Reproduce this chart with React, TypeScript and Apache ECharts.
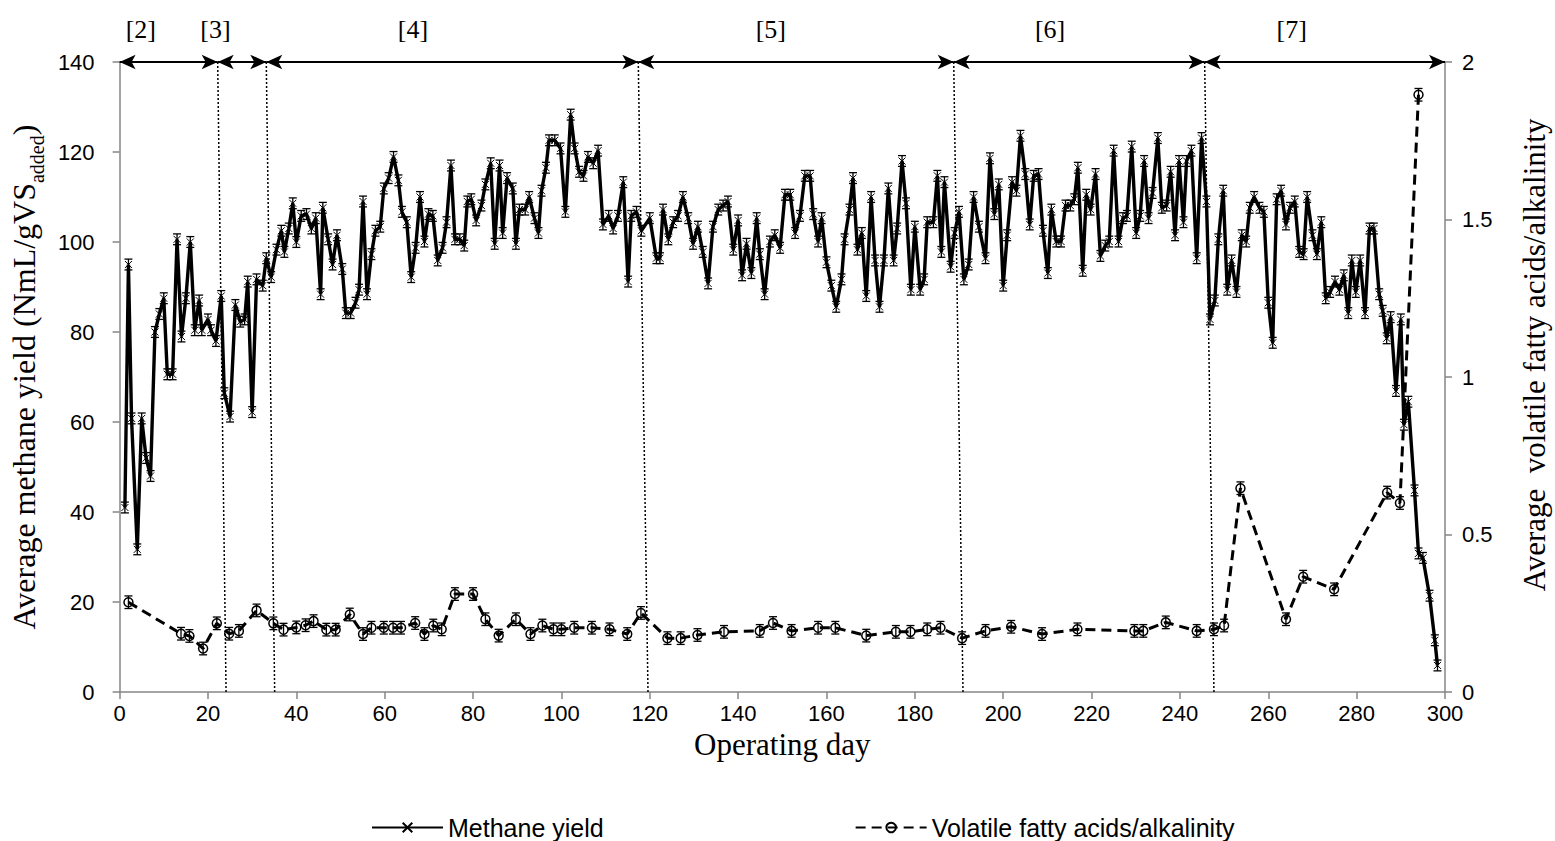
import React, { useEffect, useRef } from "react";
import * as echarts from "echarts";

// ---------- data ----------
const SERIES_NAMES = ["Methane yield", "Volatile fatty acids/alkalinity"];

// [operating day, average methane yield (NmL/gVS added)]
const METHANE: [number, number][] = [
  [1.2, 41], [2, 95], [2.7, 60.8], [4, 31.7], [5, 60.8], [6, 52], [7, 48], [8, 80], [9, 84], [10, 87.5],
  [10.8, 70.6], [12, 70.6], [13, 100.6], [14, 79], [15, 87.5], [16, 100], [17, 80.4], [18, 87], [18.6, 80.4], [20, 82.8],
  [20.7, 80.4], [21.8, 78], [23, 88], [23.7, 66.4], [25, 61.2], [26.2, 86], [27.3, 82.3], [28.3, 82.8], [29, 91.2], [30, 62.2],
  [31, 91.7], [32.4, 90.3], [33.2, 96.4], [34.3, 92.2], [35.5, 98.3], [36.6, 102.5], [37.3, 97.8], [38.3, 103], [39.2, 108.6], [40, 100],
  [41.1, 105.8], [42.3, 106.2], [43.4, 103], [44.4, 105.3], [45.5, 88.4], [46, 107.6], [47.2, 100.6], [48.2, 95], [49.2, 101.5], [50.4, 94],
  [51.2, 84.2], [52.3, 84.2], [53.4, 86.5], [54.2, 89.4], [55.1, 109], [56, 88.4], [57, 97.3], [57.9, 102.5], [59, 103.4], [59.8, 111.9],
  [60.9, 114.2], [62, 118.9], [63.1, 113.7], [63.9, 106.7], [65, 104.4], [66, 92.2], [67, 98.7], [68, 110], [69, 100.1], [69.9, 106.2],
  [70.9, 105.8], [72, 95.9], [73.1, 98.7], [74, 104.4], [75, 117], [75.9, 100.6], [77, 100.6], [78, 99.2], [78.7, 109], [79.6, 109.5],
  [80.7, 104.8], [81.9, 108.1], [82.8, 112.8], [84, 117.5], [84.9, 99.6], [86, 117], [86.7, 102], [87.7, 114.2], [89, 111.9], [89.7, 99.6],
  [90.5, 107.2], [91.8, 107.2], [92.7, 110], [93.9, 105.3], [94.8, 102], [95.5, 111.4], [96.5, 116.5], [97.2, 122.6], [98.5, 122.6], [99.8, 120.8],
  [100.9, 106.7], [102.1, 128.3], [103, 120.8], [104, 115.6], [105, 114.7], [106, 118.9], [107.2, 117.5], [108.3, 120.3], [109.4, 103.9], [110.7, 105.8],
  [111.7, 103], [112.8, 105.8], [114, 113.3], [115.1, 91.2], [115.8, 105.8], [117, 106.7], [118.1, 102.5], [120, 105.3], [121.5, 96.4], [122.3, 96.4],
  [123, 107.2], [124.2, 100.6], [125.3, 104.4], [126.4, 105.8], [127.5, 110], [128.7, 105.3], [129.8, 99.6], [130.9, 103.4], [132, 97.8], [133.2, 90.8],
  [134.3, 103.4], [135.5, 107.2], [136.6, 108.1], [137.7, 109], [138.9, 98.3], [140, 104.8], [140.9, 92.6], [141.9, 99.6], [143, 93.1], [144.2, 105.3],
  [144.9, 97.3], [146, 88.4], [147.2, 100.1], [148.3, 101.5], [149.5, 98.7], [150.6, 110.5], [151.8, 110.5], [152.9, 102], [154, 105.8], [155.1, 114.7],
  [156.3, 114.7], [157, 106.2], [158.1, 100.1], [158.9, 105.3], [160, 95.5], [161.1, 90.3], [162.2, 85.6], [163.4, 91.7], [164.1, 100.6], [165.2, 107.2],
  [166, 114.2], [167, 98.3], [168, 102], [169, 88], [170.1, 110], [171, 95.9], [172, 85.6], [173, 95.9], [174, 111.9], [175.2, 95.9],
  [176, 103], [177.1, 118], [178, 108.6], [179.1, 89.4], [180, 103.4], [181.2, 89.4], [182.1, 91.7], [182.8, 104.4], [184.2, 104.4], [185.1, 114.7],
  [186, 97.8], [186.7, 113.3], [188.1, 94.5], [189, 102], [190, 106.7], [191.1, 91.7], [192.2, 95], [193.3, 110], [194.5, 103.4], [196, 96.4],
  [197, 118.6], [198, 106.2], [199, 112.8], [200, 90.3], [200.9, 101.5], [202, 113.3], [203, 111.4], [203.9, 123.6], [205, 115.1], [206, 103.9],
  [206.9, 114.7], [208, 115.1], [209, 102.5], [210.1, 93.1], [210.9, 107.2], [212, 100.1], [213.1, 100.1], [214.1, 108.1], [215.2, 108.1], [216.1, 109.5],
  [216.9, 116.5], [218, 93.6], [218.8, 110.5], [219.8, 107.2], [220.9, 115.1], [222, 96.9], [223.1, 99.2], [224, 100.1], [225, 120.3], [226.1, 100.1],
  [227.1, 105.3], [228, 105.8], [229.1, 121.2], [230.1, 102], [231, 105.8], [231.9, 118], [232.9, 105.3], [233.8, 110.9], [235, 123.1], [235.9, 107.6],
  [237, 108.1], [237.9, 115.6], [238.9, 101.5], [239.8, 118], [240.8, 104.4], [241.5, 118], [242.6, 120.3], [243.8, 96.4], [244.9, 123.1], [246, 109],
  [246.8, 82.8], [247.9, 87], [248.7, 100.6], [249.8, 111.4], [250.7, 89.4], [251.7, 95.9], [252.8, 88.9], [254, 101.5], [255, 100.1], [255.8, 107.6],
  [256.8, 110], [258, 107.6], [259, 106.7], [260, 86.5], [261, 77.6], [261.9, 109.5], [262.9, 111.4], [264, 103.9], [264.9, 107.6], [266, 109],
  [267, 97.8], [268, 97.3], [268.8, 110], [270, 101.5], [271, 97.3], [272, 104.4], [273, 87.5], [274, 88.9], [275.1, 91.2], [276.1, 89.4],
  [277.1, 92.6], [278.1, 84.2], [278.9, 95.9], [279.8, 88.9], [280.8, 95.9], [281.9, 84.2], [282.9, 103], [283.9, 103], [285.1, 88.4], [285.9, 84.7],
  [286.8, 78.6], [287.7, 83.3], [288.9, 66.9], [290, 82.8], [290.7, 59.4], [291.7, 64.5], [293.1, 44.8], [294, 30.8], [295, 29.8], [296.5, 21.4],
  [297.7, 11.5], [298.3, 5.9],
];

// [operating day, average volatile fatty acids / alkalinity]
const VFA_ALK: [number, number][] = [
  [2, 0.285], [13.9, 0.185], [15.8, 0.178], [18.9, 0.138], [22, 0.218], [24.8, 0.185], [27, 0.194], [31, 0.259], [34.8, 0.218], [37.1, 0.198],
  [40, 0.205], [42.1, 0.212], [43.9, 0.225], [46.8, 0.198], [48.9, 0.198], [52.1, 0.246], [55.1, 0.184], [57, 0.204], [59.8, 0.204], [61.9, 0.204],
  [63.7, 0.204], [66.9, 0.219], [69, 0.184], [71, 0.211], [72.9, 0.199], [75.9, 0.311], [80, 0.311], [82.8, 0.231], [85.8, 0.179], [89.7, 0.231],
  [93, 0.184], [95.7, 0.211], [98.2, 0.199], [100, 0.199], [102.9, 0.204], [106.9, 0.204], [110.9, 0.199], [114.9, 0.184], [118, 0.251], [124, 0.171],
  [127, 0.171], [130.8, 0.181], [136.8, 0.191], [144.9, 0.194], [147.9, 0.219], [152.1, 0.194], [158.1, 0.204], [162, 0.204], [169, 0.179], [175.7, 0.191],
  [179, 0.191], [182.8, 0.199], [185.8, 0.204], [190.7, 0.171], [196, 0.194], [201.8, 0.207], [208.8, 0.184], [216.8, 0.199], [229.7, 0.194], [231.7, 0.194],
  [236.8, 0.221], [243.8, 0.194], [247.7, 0.199], [250, 0.211], [253.7, 0.647], [264, 0.231], [267.9, 0.366], [274.9, 0.326], [286.9, 0.633], [289.8, 0.6],
  [294, 1.896],
];

// estimated half-length of the error bars
const METHANE_ERR = 1.2;
const VFA_ERR = 0.02;

// operating phases
const PHASE_LABELS = ["[2]", "[3]", "[4]", "[5]", "[6]", "[7]"];
const PHASE_LABEL_DAYS = [4.8, 21.7, 66.4, 147.4, 210.6, 265.3];
const PHASE_BOUNDS = [0, 22.2, 33.2, 117.4, 188.8, 245.6, 300]; // at top of the plot
const PHASE_DIVIDER_BOTTOM = [24.1, 35.1, 119.6, 190.9, 247.7]; // dotted dividers at y = 0

const X_MIN = 0, X_MAX = 300, X_INTERVAL = 20;
const YL_MIN = 0, YL_MAX = 140, YL_INTERVAL = 20;
const YR_MIN = 0, YR_MAX = 2, YR_INTERVAL = 0.5;

const X_TITLE = "Operating day";
const YL_TITLE_MAIN = "Average methane yield (NmL/gVS";
const YL_TITLE_SUB = "added";
const YL_TITLE_END = ")";
const YR_TITLE = "Average  volatile fatty acids/alkalinity";

// ---------- styles ----------
const SERIF = "'Liberation Serif', 'Times New Roman', serif";
const SANS = "'Liberation Sans', Arial, sans-serif";
const AXIS_GRAY = "#868686";

function errorBars(data: [number, number][], err: number, yAxisIndex: number) {
  return {
    type: "custom",
    yAxisIndex,
    silent: true,
    z: 3,
    clip: false,
    data: data.map(([x, y]) => [x, y - err, y + err]),
    encode: { x: 0, y: [1, 2] },
    renderItem: (params: any, api: any) => {
      const x = api.value(0);
      const lo = api.coord([x, api.value(1)]);
      const hi = api.coord([x, api.value(2)]);
      const w = 4;
      const st = { stroke: "#000", lineWidth: 1.3 };
      return {
        type: "group",
        children: [
          { type: "line", shape: { x1: lo[0], y1: lo[1], x2: hi[0], y2: hi[1] }, style: st },
          { type: "line", shape: { x1: lo[0] - w, y1: lo[1], x2: lo[0] + w, y2: lo[1] }, style: st },
          { type: "line", shape: { x1: hi[0] - w, y1: hi[1], x2: hi[0] + w, y2: hi[1] }, style: st },
        ],
      };
    },
  };
}

export default function App() {
  const ref = useRef<HTMLDivElement>(null);

  useEffect(() => {
    if (!ref.current) return;
    const chart = echarts.init(ref.current, null, { renderer: "svg" });

    const arrowLines = PHASE_BOUNDS.slice(0, -1).map((d, i) => [
      { coord: [d, YL_MAX], symbol: "arrow", lineStyle: { color: "#000", width: 2, type: "solid" } },
      { coord: [PHASE_BOUNDS[i + 1], YL_MAX], symbol: "arrow" },
    ]);
    const dividerLines = PHASE_DIVIDER_BOTTOM.map((d, i) => [
      { coord: [PHASE_BOUNDS[i + 1], YL_MAX], symbol: "none", lineStyle: { color: "#000", width: 1.5, type: [2, 2] } },
      { coord: [d, YL_MIN], symbol: "none" },
    ]);

    const option: any = {
      animation: false,
      backgroundColor: "#fff",
      grid: { left: 117, right: 110, top: 62, bottom: 149, containLabel: false },
      legend: {
        data: SERIES_NAMES,
        left: 366,
        top: 810,
        itemWidth: 71,
        itemHeight: 12,
        itemGap: 251,
        textStyle: { fontFamily: SANS, fontSize: 25, color: "#000" },
      },
      xAxis: {
        type: "value",
        min: X_MIN,
        max: X_MAX,
        interval: X_INTERVAL,
        name: X_TITLE,
        nameLocation: "middle",
        nameGap: 25,
        nameTextStyle: { fontFamily: SERIF, fontSize: 31, color: "#000" },
        axisLine: { show: true, onZero: false, lineStyle: { color: AXIS_GRAY, width: 1.5 } },
        axisTick: { show: true, inside: false, length: 7, lineStyle: { color: AXIS_GRAY, width: 1.5 } },
        axisLabel: { fontFamily: SANS, fontSize: 22, color: "#000", margin: 10 },
        splitLine: { show: false },
      },
      yAxis: [
        {
          type: "value",
          min: YL_MIN,
          max: YL_MAX,
          interval: YL_INTERVAL,
          position: "left",
          name: `{a|${YL_TITLE_MAIN}}{s|${YL_TITLE_SUB}}{a|${YL_TITLE_END}}`,
          nameLocation: "middle",
          nameRotate: 90,
          nameGap: 70,
          nameTextStyle: {
            fontFamily: SERIF,
            fontSize: 32,
            color: "#000",
            rich: {
              a: { fontFamily: SERIF, fontSize: 32, color: "#000", verticalAlign: "bottom", padding: [0, 0, 7, 0] },
              s: { fontFamily: SERIF, fontSize: 20, color: "#000", verticalAlign: "bottom" },
            },
          },
          axisLine: { show: true, lineStyle: { color: AXIS_GRAY, width: 1.5 } },
          axisTick: { show: true, inside: false, length: 7, lineStyle: { color: AXIS_GRAY, width: 1.5 } },
          axisLabel: { fontFamily: SANS, fontSize: 22, color: "#000", margin: 25 },
          splitLine: { show: false },
        },
        {
          type: "value",
          min: YR_MIN,
          max: YR_MAX,
          interval: YR_INTERVAL,
          position: "right",
          axisLine: { show: true, lineStyle: { color: AXIS_GRAY, width: 1.5 } },
          axisTick: { show: true, inside: false, length: 7, lineStyle: { color: AXIS_GRAY, width: 1.5 } },
          axisLabel: { fontFamily: SANS, fontSize: 22, color: "#000", margin: 17 },
          splitLine: { show: false },
        },
      ],
      series: [
        {
          name: SERIES_NAMES[0],
          type: "line",
          yAxisIndex: 0,
          data: METHANE,
          z: 4,
          showSymbol: true,
          showAllSymbol: true,
          symbol: "path://M0,0L10,10M10,0L0,10",
          symbolSize: 7,
          itemStyle: { color: "#000", borderColor: "#000", borderWidth: 1 },
          lineStyle: { color: "#000", width: 3.4 },
          markLine: {
            silent: true,
            symbol: ["arrow", "arrow"],
            symbolSize: [11, 16],
            label: { show: false },
            data: [...arrowLines, ...dividerLines],
          },
        },
        {
          name: SERIES_NAMES[1],
          type: "line",
          yAxisIndex: 1,
          data: VFA_ALK,
          z: 4,
          showSymbol: true,
          showAllSymbol: true,
          symbol: "circle",
          symbolSize: 9,
          itemStyle: { color: "rgba(255,255,255,0)", borderColor: "#000", borderWidth: 1.5 },
          lineStyle: { color: "#000", width: 3, type: [10, 6] },
        },
        errorBars(METHANE, METHANE_ERR, 0),
        errorBars(VFA_ALK, VFA_ERR, 1),
      ],
    };

    chart.setOption(option);

    const labelGraphics: any[] = PHASE_LABELS.map((t, i) => {
      const px = chart.convertToPixel({ xAxisIndex: 0 }, PHASE_LABEL_DAYS[i]) as number;
      return {
        type: "text",
        x: px,
        y: 29,
        style: {
          text: t,
          fontFamily: SERIF,
          fontSize: 26,
          fill: "#000",
          textAlign: "center",
          textVerticalAlign: "middle",
        },
      };
    });
    // right axis title (sits a little above the axis centre in the reference)
    const rightX = (chart.convertToPixel({ xAxisIndex: 0 }, X_MAX) as number) + 89;
    const rightY = chart.convertToPixel({ yAxisIndex: 1 }, 1.07) as number;
    labelGraphics.push({
      type: "text",
      x: rightX,
      y: rightY,
      rotation: Math.PI / 2,
      style: {
        text: YR_TITLE,
        fontFamily: SERIF,
        fontSize: 31,
        fill: "#000",
        textAlign: "center",
        textVerticalAlign: "middle",
      },
    });
    chart.setOption({ graphic: labelGraphics });

    return () => chart.dispose();
  }, []);

  return (
    <div
      ref={ref}
      style={{ position: "absolute", left: 0, top: 0, width: 1555, height: 841, background: "#fff" }}
    />
  );
}
